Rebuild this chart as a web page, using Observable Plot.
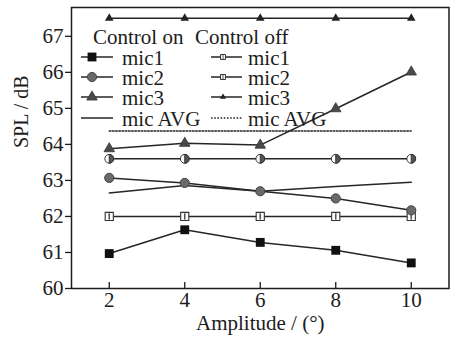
<!DOCTYPE html>
<html>
<head>
<meta charset="utf-8">
<script src="https://cdn.jsdelivr.net/npm/d3@7"></script>
<script src="https://cdn.jsdelivr.net/npm/@observablehq/plot@0.6"></script>
<style>
  html, body { margin: 0; padding: 0; background: #ffffff; }
  #chart { width: 457px; height: 343px; }
</style>
</head>
<body>
<div id="chart"></div>
<script>
// ---- data ----
const amplitudes = [2, 4, 6, 8, 10];
const onMic1 = [60.97, 61.63, 61.28, 61.06, 60.71];
const onMic2 = [63.07, 62.93, 62.70, 62.50, 62.17];
const onMic3 = [63.88, 64.03, 63.98, 64.99, 66.01];
const onAvg  = [62.65, 62.86, 62.70, 62.83, 62.95];
const offMic1 = [62.0, 62.0, 62.0, 62.0, 62.0];
const offMic2 = [63.6, 63.6, 63.6, 63.6, 63.6];
const offMic3 = [67.5, 67.5, 67.5, 67.5, 67.5];
const offAvg  = [64.37, 64.37, 64.37, 64.37, 64.37];
const xTicks = [2, 4, 6, 8, 10];
const yTicks = [60, 61, 62, 63, 64, 65, 66, 67];
const xLabel = "Amplitude / (°)";
const yLabel = "SPL / dB";
const legendHeaders = ["Control on", "Control off"];
const legendNames = ["mic1", "mic2", "mic3", "mic AVG"];

const rows = ys => amplitudes.map((x, i) => ({x, y: ys[i]}));

const FONT = "'Liberation Serif', 'Times New Roman', serif";
const INK = "#1c1c1c";
const LINE = "#262626";
const FS = 21;

// custom symbols
const halfRight = {draw(ctx, size) {
  const r = Math.sqrt(size / Math.PI);
  ctx.moveTo(0, -r);
  ctx.arc(0, 0, r, -Math.PI / 2, Math.PI / 2);
  ctx.closePath();
}};
const vbar = {draw(ctx, size) {
  const r = Math.sqrt(size / Math.PI);
  ctx.moveTo(0, -r * 0.9);
  ctx.lineTo(0, r * 0.9);
}};

const lineOpts = {x: "x", y: "y", stroke: LINE, strokeWidth: 1.5};

const chart = Plot.plot({
  width: 457,
  height: 343,
  marginLeft: 71,
  marginRight: 8.5,
  marginTop: 7,
  marginBottom: 55,
  style: {fontFamily: FONT, color: INK, background: "#ffffff", overflow: "visible"},
  x: {domain: [1, 11]},
  y: {domain: [60, 67.8]},
  marks: [
    Plot.axisY({ticks: yTicks, tickSize: 6, tickPadding: 2, fontSize: FS, label: null, stroke: INK, strokeWidth: 1.3}),
    Plot.axisX({ticks: xTicks, tickSize: -6, tickPadding: 10, fontSize: FS, label: null, stroke: INK, strokeWidth: 1.3}),
    Plot.text([yLabel], {frameAnchor: "left", dx: -50, rotate: -90, fontSize: 20, fill: INK}),
    Plot.text([xLabel], {frameAnchor: "bottom", dy: 41, fontSize: FS, fill: INK}),
    // control off
    Plot.line(rows(offAvg), {...lineOpts, strokeDasharray: "1.6,1.6", strokeWidth: 1.5}),
    Plot.line(rows(offMic1), lineOpts),
    Plot.dot(rows(offMic1), {x: "x", y: "y", symbol: "square", r: 4.6, fill: "white", stroke: "#333", strokeWidth: 1.1}),
    Plot.dot(rows(offMic1), {x: "x", y: "y", symbol: vbar, r: 3.5, fill: "none", stroke: "#555", strokeWidth: 1.6}),
    Plot.line(rows(offMic2), lineOpts),
    Plot.dot(rows(offMic2), {x: "x", y: "y", symbol: "circle", r: 4.4, fill: "white", stroke: "#333", strokeWidth: 1}),
    Plot.dot(rows(offMic2), {x: "x", y: "y", symbol: halfRight, r: 4.4, fill: "#555", stroke: "#333", strokeWidth: 1}),
    Plot.line(rows(offMic3), lineOpts),
    Plot.dot(rows(offMic3), {x: "x", y: "y", symbol: "triangle", r: 3.2, fill: "#222"}),
    // control on
    Plot.line(rows(onAvg), lineOpts),
    Plot.line(rows(onMic1), lineOpts),
    Plot.dot(rows(onMic1), {x: "x", y: "y", symbol: "square", r: 5, fill: "#111"}),
    Plot.line(rows(onMic2), lineOpts),
    Plot.dot(rows(onMic2), {x: "x", y: "y", symbol: "circle", r: 4.6, fill: "#6a6a6a", stroke: "#444", strokeWidth: 1}),
    Plot.line(rows(onMic3), lineOpts),
    Plot.dot(rows(onMic3), {x: "x", y: "y", symbol: "triangle", r: 3.9, fill: "#4a4a4a", stroke: "#333", strokeWidth: 0.8}),
    Plot.frame({stroke: INK, strokeWidth: 1.5})
  ]
});
document.getElementById("chart").appendChild(chart);

// ---- legend (inside the frame, top-left) ----
const svg = d3.select(chart);
const lg = svg.append("g").attr("font-family", FONT).attr("font-size", FS).attr("fill", INK).attr("text-anchor", "start");
const headerY = 44, rowY = [57, 77, 97, 118];
const cols = [{hx: 93, x0: 81, x1: 113, mx: 92, tx: 122}, {hx: 195, x0: 211, x1: 242, mx: 223, tx: 248}];
legendHeaders.forEach((h, c) => lg.append("text").attr("x", cols[c].hx).attr("y", headerY).text(h));
const sym = (type, r) => d3.symbol(type, Math.PI * r * r)();
const legendMarks = [
  [ // control on
    g => g.append("path").attr("d", sym(d3.symbolSquare, 5)).attr("fill", "#111"),
    g => g.append("path").attr("d", sym(d3.symbolCircle, 4.6)).attr("fill", "#6a6a6a").attr("stroke", "#444"),
    g => g.append("path").attr("d", sym(d3.symbolTriangle, 3.9)).attr("fill", "#4a4a4a").attr("stroke", "#333").attr("stroke-width", 0.8),
    null
  ],
  [ // control off (small markers)
    g => { g.append("path").attr("d", sym(d3.symbolSquare, 2.8)).attr("fill", "white").attr("stroke", "#333");
           g.append("path").attr("d", "M0,-2L0,2").attr("stroke", "#555"); },
    g => { g.append("path").attr("d", sym(d3.symbolSquare, 2.8)).attr("fill", "white").attr("stroke", "#333");
           g.append("path").attr("d", "M0,-2L0,2").attr("stroke", "#555"); },
    g => { g.append("path").attr("d", sym(d3.symbolTriangle, 2.3)).attr("fill", "#222"); },
    null
  ]
];
cols.forEach((col, c) => {
  legendNames.forEach((name, i) => {
    const y = rowY[i];
    const ln = lg.append("line").attr("x1", col.x0).attr("x2", col.x1).attr("y1", y).attr("y2", y)
      .attr("stroke", LINE).attr("stroke-width", 1.5);
    if (c === 1 && i === 3) ln.attr("stroke-dasharray", "1.6,1.6");
    const m = legendMarks[c][i];
    if (m) m(lg.append("g").attr("transform", `translate(${col.mx},${y})`));
    lg.append("text").attr("x", col.tx).attr("y", y).attr("dy", "0.36em").text(name);
  });
});
</script>
</body>
</html>
